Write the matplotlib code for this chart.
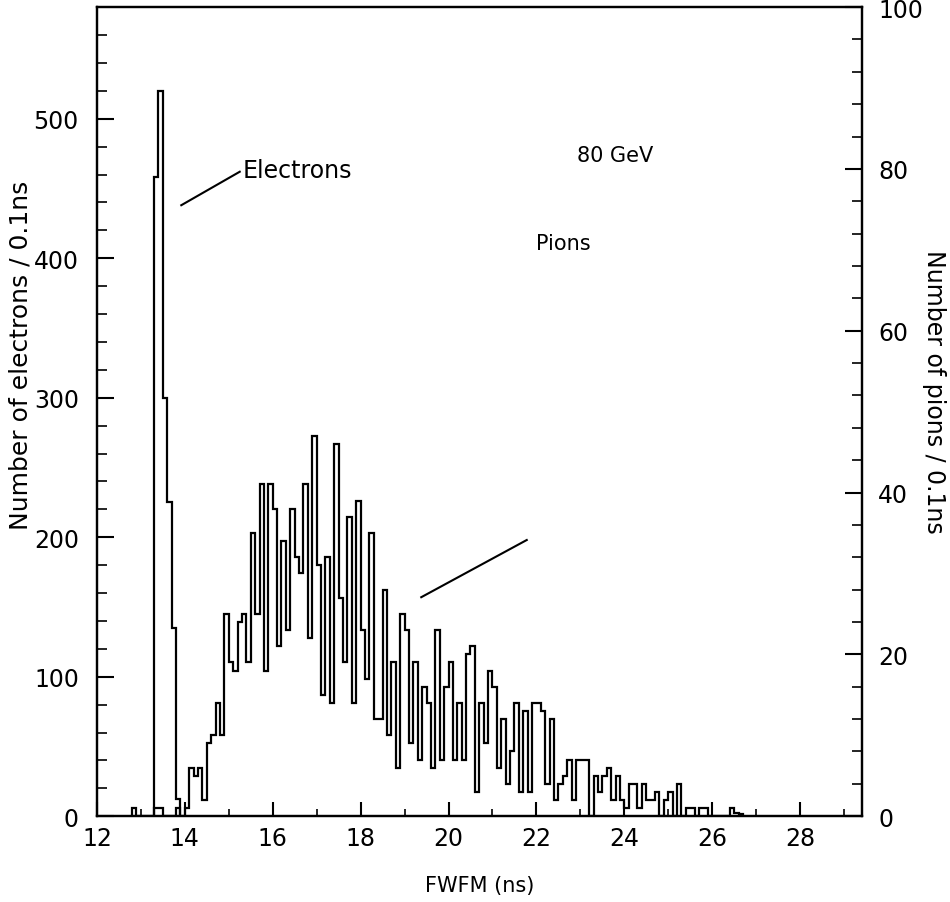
import numpy as np
import matplotlib
matplotlib.use("Agg")
import matplotlib.pyplot as plt
from matplotlib.ticker import MultipleLocator

# ---- data ----
BIN = 0.1
# electrons (left axis), bins of 0.1 ns starting at 13.3 ns
e_start = 13.3
e_counts = [458, 520, 300, 225, 135, 12]

# pions (right axis), bins of 0.1 ns starting at 12.8 ns
p_start = 12.8
p_counts = [
    1, 0, 0, 0, 0, 1, 1, 0, 0, 0, 1, 0,            # 12.8 - 13.9
    1, 6, 5, 6, 2, 9, 10, 14, 10, 25,             # 14.0 - 14.9
    19, 18, 24, 25, 19, 35, 25, 41, 18, 41,       # 15.0 - 15.9
    38, 21, 34, 23, 38, 32, 30, 41, 22, 47,       # 16.0 - 16.9
    31, 15, 32, 14, 46, 27, 19, 37, 14, 39,       # 17.0 - 17.9
    23, 17, 35, 12, 12, 28, 10, 19, 6, 25,        # 18.0 - 18.9
    23, 9, 19, 7, 16, 14, 6, 23, 7, 16,           # 19.0 - 19.9
    19, 7, 14, 7, 20, 21, 3, 14, 9, 18,           # 20.0 - 20.9
    16, 6, 12, 4, 8, 14, 3, 13, 3, 14,            # 21.0 - 21.9
    14, 13, 4, 12, 2, 4, 5, 7, 2, 7,              # 22.0 - 22.9
    7, 7, 0, 5, 3, 5, 6, 2, 5, 2,                 # 23.0 - 23.9
    1, 4, 4, 1, 4, 2, 2, 3, 0, 2,                 # 24.0 - 24.9
    3, 0, 4, 0, 1, 1, 0, 1, 1, 0,                 # 25.0 - 25.9
    0, 0, 0, 0, 1, 0.4, 0.3,                      # 26.0 - 26.6
]

e_edges = e_start + BIN * np.arange(len(e_counts) + 1)
p_edges = p_start + BIN * np.arange(len(p_counts) + 1)

plt.rcParams['font.family'] = ['DejaVu Sans']
fig = plt.figure(figsize=(9.5, 9.03), dpi=100)
ax = fig.add_axes([0.102, 0.095, 0.805, 0.896])
ax2 = ax.twinx()

lw = 1.6
ax.stairs(e_counts, e_edges, color='black', lw=lw, baseline=0)
ax2.stairs(p_counts, p_edges, color='black', lw=lw, baseline=0)

ax.set_xlim(12, 29.4)
ax.set_ylim(0, 580)
ax2.set_ylim(0, 100)

ax.xaxis.set_major_locator(MultipleLocator(2))
ax.xaxis.set_minor_locator(MultipleLocator(1))
ax.yaxis.set_major_locator(MultipleLocator(100))
ax.yaxis.set_minor_locator(MultipleLocator(20))
ax2.yaxis.set_major_locator(MultipleLocator(20))
ax2.yaxis.set_minor_locator(MultipleLocator(4))

fs = 17
ax.tick_params(axis='x', which='major', direction='in', length=10, width=1.5,
               pad=7, labelsize=fs, top=False)
ax.tick_params(axis='x', which='minor', direction='in', length=5, width=1.2, top=False)
ax.tick_params(axis='y', which='major', direction='in', length=12, width=1.5,
               pad=13, labelsize=fs, right=False)
ax.tick_params(axis='y', which='minor', direction='in', length=7, width=1.2, right=False)
ax2.tick_params(axis='y', which='major', direction='in', length=12, width=1.5,
                pad=12, labelsize=fs)
ax2.tick_params(axis='y', which='minor', direction='in', length=7, width=1.2)

for a in (ax, ax2):
    for s in a.spines.values():
        s.set_linewidth(1.6)

ax.set_xlabel('FWFM (ns)', fontsize=15, labelpad=18)
fig.text(0.022, 0.607, 'Number of electrons / 0.1ns', fontsize=18,
         rotation=90, ha='center', va='center')
fig.text(0.983, 0.566, 'Number of pions / 0.1ns', fontsize=17,
         rotation=-90, ha='center', va='center')

# annotations
ax.text(15.32, 463, 'Electrons', fontsize=17, ha='left', va='center')
ax.plot([13.92, 15.25], [438, 462], color='black', lw=1.5)
ax.text(23.8, 474, '80 GeV', fontsize=15, ha='center', va='center')
ax.text(22.0, 411, 'Pions', fontsize=15, ha='left', va='center')
ax.plot([19.38, 21.78], [157, 198], color='black', lw=1.5)

fig.savefig('out.png', dpi=100)
